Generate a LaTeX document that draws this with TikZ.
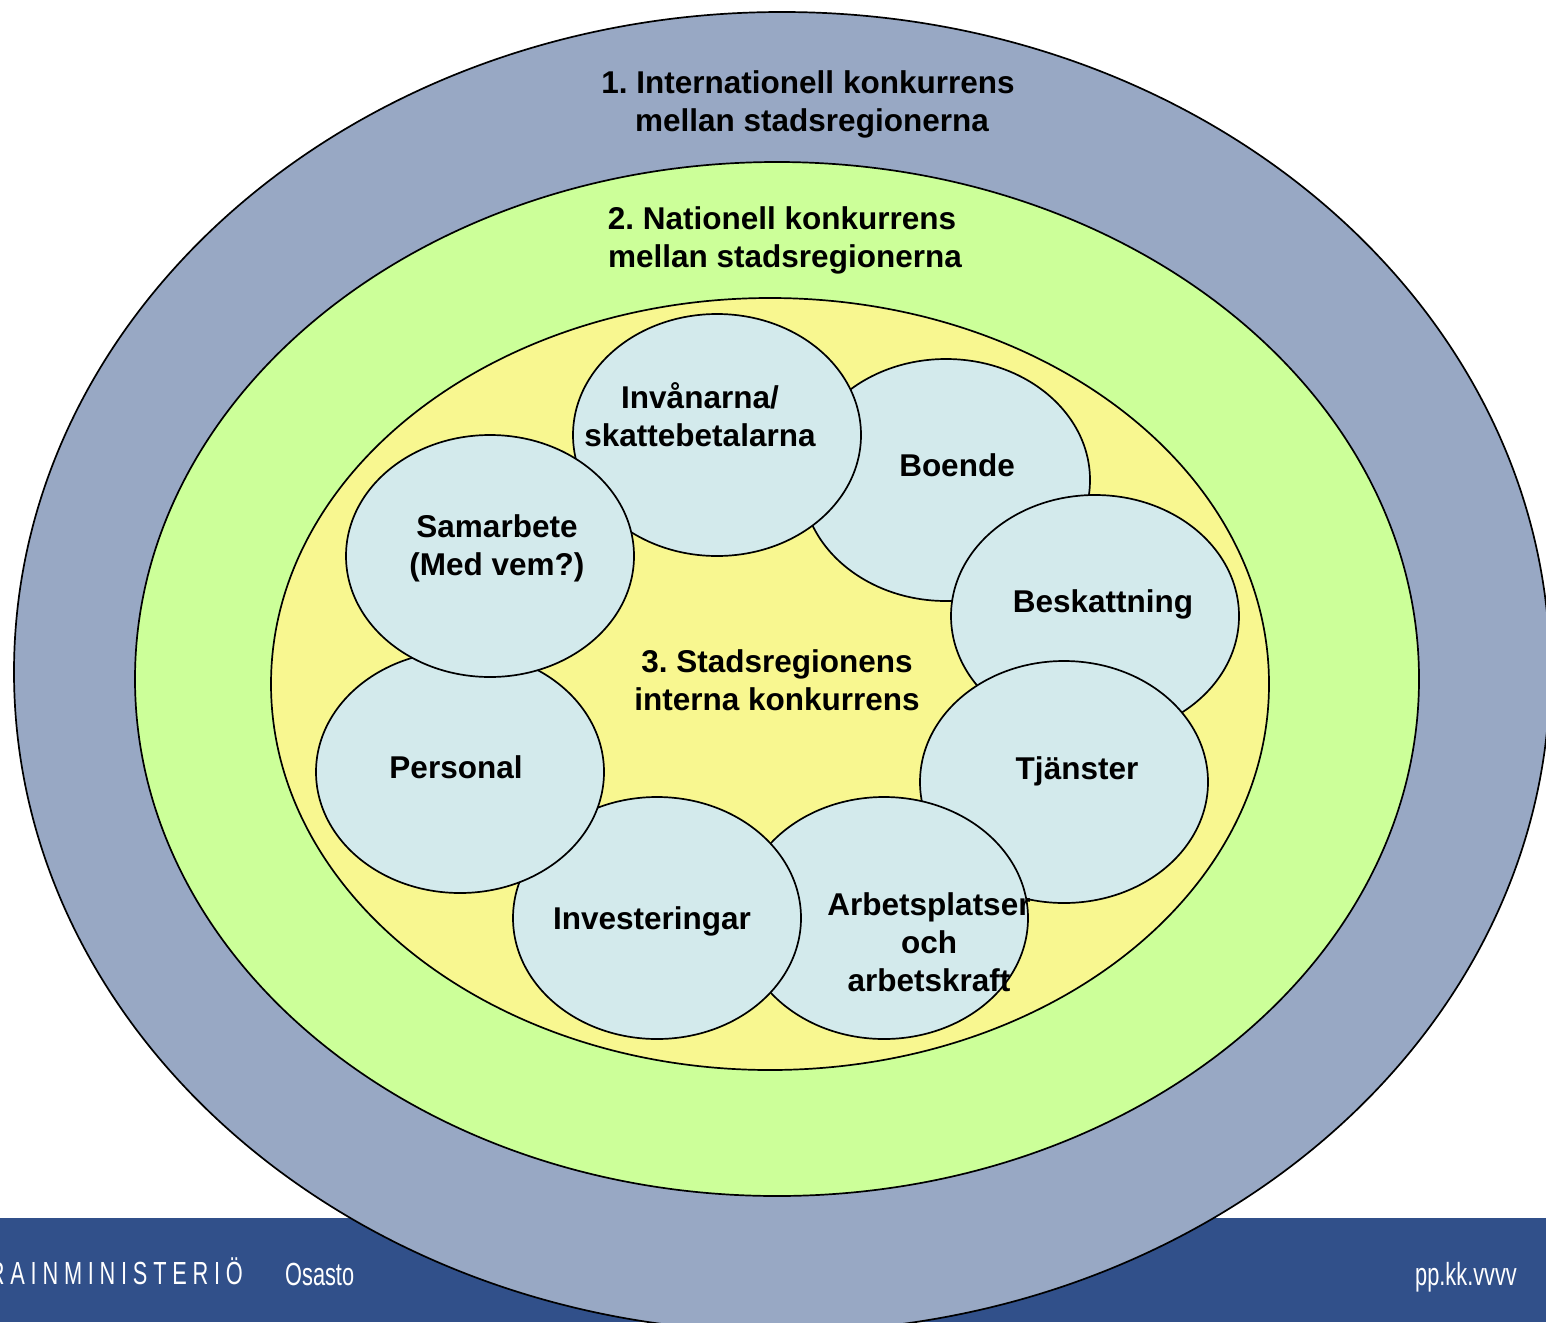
\documentclass[tikz,border=0pt]{standalone}
\usepackage{fontspec}
\setmainfont{Liberation Sans}
\newfontfamily\footfont[FakeStretch=0.68]{Liberation Sans}
\usetikzlibrary{shapes.geometric}
\frenchspacing
\definecolor{outerblue}{HTML}{98A8C4}
\definecolor{midgreen}{HTML}{CCFF99}
\definecolor{inneryellow}{HTML}{F8F790}
\definecolor{bubble}{HTML}{D3EAEC}
\definecolor{footerblue}{HTML}{31508A}
\tikzset{
  ring/.style={draw=black, line width=1.7pt},
  bub/.style={ellipse, draw=black, line width=1.7pt, fill=bubble, minimum width=288pt, minimum height=242pt, inner sep=0pt},
  lbl/.style={anchor=base, inner sep=0pt, font=\fontsize{31.5}{38}\selectfont\bfseries},
  foot/.style={inner sep=0pt, text=white, font=\footfont\fontsize{32}{38}\selectfont}
}
\begin{document}
\begin{tikzpicture}[x=1pt,y=-1pt]
\useasboundingbox (0,0) rectangle (1546,1322);
% footer bar
\fill[footerblue] (0,1218) rectangle (1546,1322);
% rings
\filldraw[ring, fill=outerblue] (782,672) ellipse [x radius=768, y radius=660];
\filldraw[ring, fill=midgreen] (777,679) ellipse [x radius=642, y radius=517];
\filldraw[ring, fill=inneryellow] (770,684) ellipse [x radius=499, y radius=386];
% bubbles (drawing order matters)
\node[bub] (boende) at (946,480) {};
\node[bub] (beskattning) at (1095,616) {};
\node[bub] (tjanster) at (1064,782) {};
\node[bub] (arbets) at (884,918) {};
\node[bub] (invest) at (657,918) {};
\node[bub] (personal) at (460,772) {};
\node[bub] (invanarna) at (717,435) {};
\node[bub] (samarbete) at (490,556) {};
% ring titles
\node[lbl] (t1a) at (808,93) {1. Internationell konkurrens};
\node[lbl] (t1b) at (812,131) {mellan stadsregionerna};
\node[lbl] (t2a) at (782,229) {2. Nationell konkurrens};
\node[lbl] (t2b) at (785,267) {mellan stadsregionerna};
\node[lbl] (t3a) at (777,672) {3. Stadsregionens};
\node[lbl] (t3b) at (777,710) {interna konkurrens};
% bubble labels
\node[lbl] (l1a) at (700,408) {Invånarna/};
\node[lbl] (l1b) at (700,446) {skattebetalarna};
\node[lbl] (l2) at (957,476) {Boende};
\node[lbl] (l3a) at (497,537) {Samarbete};
\node[lbl] (l3b) at (497,575) {(Med vem?)};
\node[lbl] (l4) at (1103,612) {Beskattning};
\node[lbl] (l5) at (456,778) {Personal};
\node[lbl] (l6) at (1077,779) {Tjänster};
\node[lbl] (l7) at (652,929) {Investeringar};
\node[lbl] (l8a) at (929,915) {Arbetsplatser};
\node[lbl] (l8b) at (929,953) {och};
\node[lbl] (l8c) at (929,991) {arbetskraft};
% footer texts
\node[foot, anchor=base east] (ministry) at (243,1284) {\addfontfeature{LetterSpace=18}RAINMINISTERIÖ};
\node[foot, anchor=base west] (osasto) at (285,1285) {Osasto};
\node[foot, anchor=base east] (date) at (1517,1285) {pp.kk.vvvv};
\end{tikzpicture}
\end{document}
